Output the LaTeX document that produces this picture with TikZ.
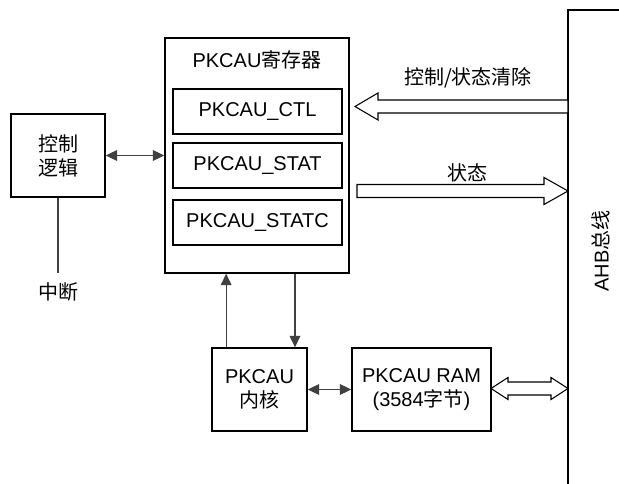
\documentclass[tikz,border=0pt]{standalone}
\usepackage{fontspec}
\setmainfont{Liberation Sans}
\newfontfamily\cjk{Noto Sans CJK SC}
\usetikzlibrary{arrows.meta,calc}

\begin{document}
\begin{tikzpicture}[x=0.75pt,y=-0.75pt,
    font=\fontsize{15}{18}\selectfont,
    box/.style={draw=black, line width=1.1pt, inner sep=0pt, align=center},
    link/.style={draw=black!75, line width=0.8pt},
    tip/.style={-{Triangle[length=8.5pt,width=8pt]}},
    tips/.style={{Triangle[length=8.5pt,width=8pt]}-{Triangle[length=8.5pt,width=8pt]}},
    hollow/.style={draw=black, line width=0.8pt, fill=white, line join=miter}]
    \def\bx{568}
    \useasboundingbox (0,0) rectangle (619,484);
    % Draw the register block
    \node[box, minimum width=138pt, minimum height=176.25pt] (reg) at (257,155.5) {};
    \node (regtitle) at (257,60) {PKCAU{\cjk 寄存器}};
    \node[box, minimum width=126.75pt, minimum height=33.75pt] (ctl) at (257.5,111.5) {PKCAU\_CTL};
    \node[box, minimum width=126.75pt, minimum height=33.75pt] (stat) at (257.5,165.5) {PKCAU\_STAT};
    \node[box, minimum width=126.75pt, minimum height=33.75pt] (statc) at (257.5,222.5) {PKCAU\_STATC};
    % Draw the other blocks
    \node[box, minimum width=70.5pt, minimum height=62.25pt] (logic) at (58,155.5) {{\cjk 控制}\\{\cjk 逻辑}};
    \node[box, minimum width=71.25pt, minimum height=62.25pt] (core) at (259.5,389.5) {PKCAU\\{\cjk 内核}};
    \node[box, minimum width=104.25pt, minimum height=62.25pt] (ram) at (421.5,389.5) {PKCAU RAM\\({3584}{\cjk 字节})};
    % bus
    \coordinate (bustop) at (\bx,10);
    \draw[line width=1.1pt] (619,10) -- (bustop) -- (\bx,484);
    \node[rotate=90] (ahb) at (601,251) {AHB{\cjk 总线}};
    % interrupt
    \coordinate (irq) at (58,273);
    \draw[link] (logic.south) -- (irq);
    \node (irqtext) at (58,292) {\cjk 中断};
    % thin arrows
    \draw[link, tips] (logic) -- (reg);
    \draw[link, tip] ([xshift=-25pt]core.north) -- ([xshift=-25pt]core.north |- reg.south);
    \draw[link, tip] ([xshift=26.6pt]core.north |- reg.south) -- ([xshift=26.6pt]core.north);
    \draw[link, tips] (core) -- (ram);
    % wide arrows
    \draw[hollow] (\bx,100) -- (378,100) -- (378,93) -- (355,106.5) -- (378,120) -- (378,113) -- (\bx,113) -- cycle;
    \node (clrtext) at (468,78) {\cjk 控制/状态清除};
    \draw[hollow] (357,184.5) -- (544,184.5) -- (544,177.5) -- (\bx,191) -- (544,204.5) -- (544,197.5) -- (357,197.5) -- cycle;
    \node (stattext) at (467,173) {\cjk 状态};
    \draw[hollow] (491,388.5) -- (508,377.5) -- (508,382) -- (551,382) -- (551,377.5) -- (\bx,388.5) -- (551,399.5) -- (551,395) -- (508,395) -- (508,399.5) -- cycle;
\end{tikzpicture}
\end{document}
